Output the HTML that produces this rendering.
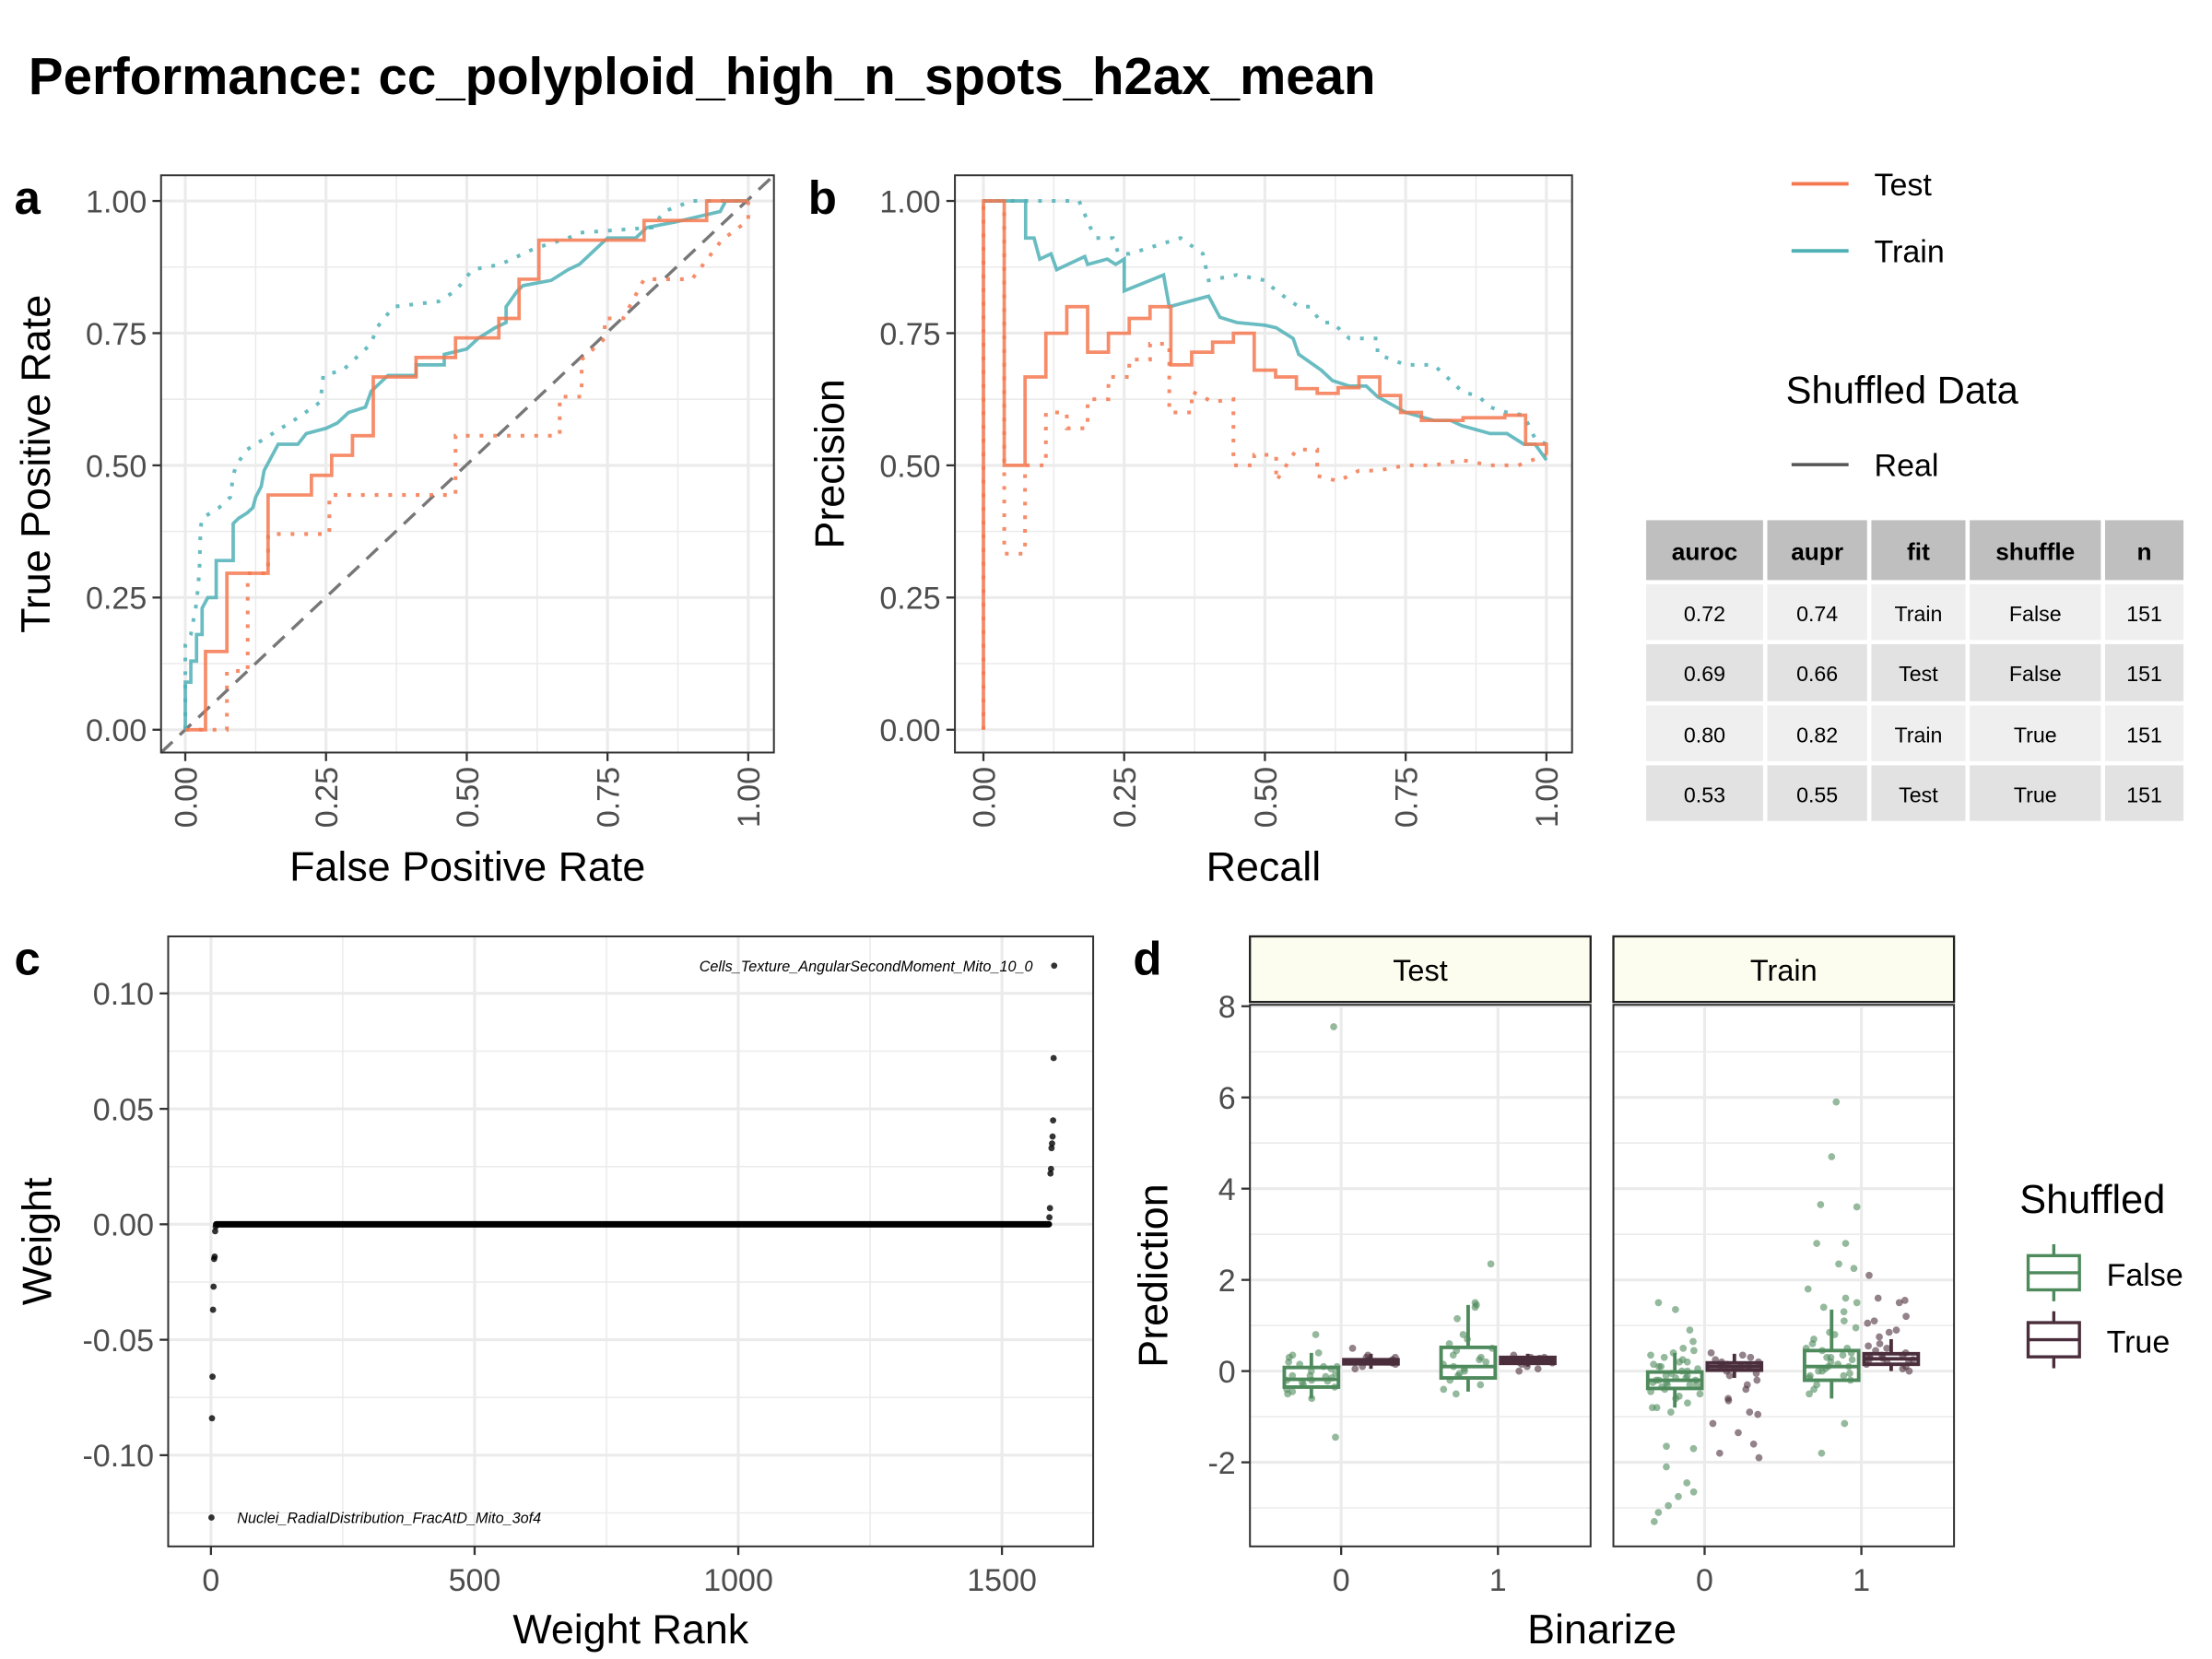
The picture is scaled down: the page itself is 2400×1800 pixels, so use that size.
<!DOCTYPE html>
<html><head><meta charset="utf-8">
<style>
html,body{margin:0;padding:0;background:#fff;}
svg{display:block;font-family:"Liberation Sans",Arial,sans-serif;}
</style></head>
<body>
<svg id="fig" width="2400" height="1800" viewBox="0 0 1552 1164" xmlns="http://www.w3.org/2000/svg">
<text x="20" y="66" font-size="36.5" font-weight="bold" fill="#000">Performance: cc_polyploid_high_n_spots_h2ax_mean</text>
</svg>
<script>
// ---------- DATA ----------
const rocTestReal = [[0,0],[0.036,0],[0.036,0.148],[0.074,0.148],[0.074,0.296],[0.147,0.296],[0.147,0.444],[0.224,0.444],[0.224,0.481],[0.26,0.481],[0.26,0.519],[0.297,0.519],[0.297,0.556],[0.334,0.556],[0.334,0.667],[0.41,0.667],[0.41,0.704],[0.48,0.704],[0.48,0.741],[0.557,0.741],[0.557,0.778],[0.593,0.778],[0.593,0.852],[0.628,0.852],[0.628,0.926],[0.815,0.926],[0.815,0.963],[0.926,0.963],[0.926,1],[1,1]];
const rocTestShuf = [[0,0],[0.06,0],[0.074,0],[0.074,0.111],[0.111,0.111],[0.111,0.296],[0.147,0.296],[0.147,0.37],[0.256,0.37],[0.256,0.444],[0.48,0.444],[0.48,0.556],[0.665,0.556],[0.665,0.63],[0.704,0.63],[0.704,0.7],[0.745,0.74],[0.745,0.778],[0.778,0.778],[0.815,0.852],[0.9,0.852],[0.953,0.926],[1,0.963],[1,1]];
const rocTrainReal = [[0,0],[0,0.09],[0.01,0.09],[0.01,0.13],[0.02,0.13],[0.02,0.18],[0.03,0.18],[0.03,0.23],[0.04,0.25],[0.055,0.25],[0.055,0.32],[0.085,0.32],[0.085,0.39],[0.095,0.40],[0.11,0.41],[0.12,0.42],[0.125,0.44],[0.135,0.46],[0.14,0.49],[0.155,0.52],[0.165,0.54],[0.2,0.54],[0.215,0.56],[0.25,0.57],[0.27,0.58],[0.29,0.6],[0.32,0.61],[0.33,0.64],[0.34,0.65],[0.36,0.67],[0.41,0.67],[0.41,0.69],[0.46,0.69],[0.46,0.71],[0.5,0.72],[0.52,0.74],[0.55,0.76],[0.57,0.77],[0.57,0.8],[0.59,0.83],[0.6,0.84],[0.65,0.85],[0.68,0.87],[0.7,0.88],[0.72,0.9],[0.73,0.91],[0.75,0.93],[0.8,0.93],[0.82,0.95],[0.87,0.96],[0.95,0.98],[0.96,1],[1,1]];
const rocTrainShuf = [[0,0],[0,0.16],[0.01,0.18],[0.02,0.24],[0.025,0.3],[0.027,0.38],[0.03,0.4],[0.06,0.42],[0.08,0.44],[0.085,0.48],[0.09,0.5],[0.11,0.53],[0.14,0.55],[0.17,0.57],[0.2,0.59],[0.24,0.62],[0.245,0.67],[0.28,0.68],[0.3,0.7],[0.33,0.73],[0.34,0.76],[0.37,0.8],[0.45,0.81],[0.48,0.83],[0.51,0.87],[0.56,0.88],[0.6,0.9],[0.62,0.91],[0.68,0.93],[0.7,0.94],[0.83,0.95],[0.85,0.98],[0.9,1],[1,1]];

const prTestReal = [[0,0],[0,1],[0.037,1],[0.037,0.5],[0.074,0.5],[0.074,0.667],[0.111,0.667],[0.111,0.75],[0.148,0.75],[0.148,0.8],[0.185,0.8],[0.185,0.714],[0.222,0.714],[0.222,0.75],[0.259,0.75],[0.259,0.778],[0.296,0.778],[0.296,0.8],[0.333,0.8],[0.333,0.69],[0.37,0.69],[0.37,0.714],[0.407,0.714],[0.407,0.733],[0.444,0.733],[0.444,0.75],[0.481,0.75],[0.481,0.68],[0.519,0.68],[0.519,0.667],[0.556,0.667],[0.556,0.645],[0.593,0.645],[0.593,0.636],[0.63,0.636],[0.63,0.647],[0.667,0.647],[0.667,0.667],[0.704,0.667],[0.704,0.632],[0.741,0.632],[0.741,0.6],[0.778,0.6],[0.778,0.585],[0.852,0.585],[0.852,0.59],[0.926,0.59],[0.926,0.595],[0.963,0.595],[0.963,0.54],[1,0.54],[1,0.52]];
const prTestShuf = [[0,0],[0,1],[0.037,1],[0.037,0.333],[0.074,0.333],[0.074,0.5],[0.111,0.5],[0.111,0.6],[0.148,0.6],[0.148,0.57],[0.185,0.57],[0.185,0.625],[0.222,0.625],[0.222,0.667],[0.259,0.667],[0.259,0.7],[0.296,0.7],[0.296,0.73],[0.33,0.73],[0.33,0.6],[0.37,0.6],[0.37,0.64],[0.407,0.62],[0.444,0.625],[0.444,0.5],[0.481,0.5],[0.481,0.52],[0.52,0.52],[0.52,0.47],[0.556,0.53],[0.593,0.53],[0.593,0.48],[0.63,0.47],[0.667,0.49],[0.7,0.49],[0.75,0.5],[0.8,0.5],[0.85,0.51],[0.9,0.5],[0.95,0.5],[1,0.52]];
const prTrainReal = [[0,1],[0.075,1],[0.075,0.93],[0.09,0.93],[0.1,0.89],[0.12,0.9],[0.13,0.87],[0.18,0.895],[0.185,0.88],[0.22,0.89],[0.235,0.88],[0.25,0.89],[0.25,0.83],[0.32,0.86],[0.33,0.8],[0.4,0.82],[0.42,0.78],[0.45,0.77],[0.5,0.765],[0.52,0.76],[0.55,0.74],[0.56,0.71],[0.6,0.68],[0.62,0.66],[0.65,0.65],[0.68,0.65],[0.7,0.63],[0.75,0.6],[0.8,0.585],[0.83,0.585],[0.85,0.575],[0.9,0.56],[0.93,0.56],[0.96,0.54],[0.98,0.54],[1,0.51]];
const prTrainShuf = [[0,1],[0.17,1],[0.19,0.95],[0.2,0.93],[0.23,0.93],[0.24,0.9],[0.26,0.9],[0.35,0.93],[0.39,0.9],[0.4,0.85],[0.45,0.86],[0.5,0.85],[0.52,0.83],[0.56,0.8],[0.58,0.8],[0.6,0.77],[0.62,0.77],[0.65,0.74],[0.7,0.74],[0.7,0.71],[0.75,0.69],[0.8,0.69],[0.82,0.67],[0.85,0.64],[0.88,0.63],[0.9,0.61],[0.93,0.6],[0.96,0.595],[0.98,0.55],[1,0.54]];

const unitTicks = [0,0.25,0.5,0.75,1];
const unitTickLabels = ["0.00","0.25","0.50","0.75","1.00"];

const weightNegRanks = [1,2,3,4,5,6,7,8,9];
const weightNegValues = [-0.127,-0.084,-0.066,-0.037,-0.027,-0.015,-0.014,-0.003,-0.001];
const weightPosRanks = [1590,1591,1592,1593,1594,1595,1596,1597,1598,1599];
const weightPosValues = [0.003,0.007,0.022,0.024,0.033,0.035,0.038,0.045,0.072,0.112];
const weightZeroRange = [10,1589];
const weightXTicks = [0,500,1000,1500];
const weightYTicks = [-0.1,-0.05,0,0.05,0.1];
const weightYTickLabels = ["-0.10","-0.05","0.00","0.05","0.10"];

const predTestFalse0 = [7.55,0.8,0.4,0.35,0.3,0.2,0.15,0.1,0.05,0,-0.05,-0.1,-0.12,-0.15,-0.2,-0.22,-0.25,-0.3,-0.35,-0.4,-0.45,-0.5,-0.6,-1.45,-0.2,-0.1,0.1];
const predTestTrue0 = [0.5,0.35,0.3,0.25,0.22,0.2,0.2,0.18,0.15,0.1,0.05,0.25,0.3];
const predTestFalse1 = [2.35,1.5,1.45,1.4,1.15,0.8,0.6,0.5,0.45,0.3,0.25,0.2,0.1,0.05,0,-0.05,-0.1,-0.2,-0.3,-0.4,-0.5,0.15,0.35,0.7];
const predTestTrue1 = [0.35,0.3,0.28,0.25,0.22,0.2,0.18,0.15,0.1,0.05,0.0,0.3,0.25];
const predTrainFalse0 = [1.5,1.35,0.9,0.65,0.5,0.45,0.4,0.35,0.3,0.25,0.2,0.15,0.1,0.05,0,-0.05,-0.1,-0.15,-0.2,-0.2,-0.25,-0.25,-0.3,-0.3,-0.35,-0.4,-0.45,-0.5,-0.55,-0.6,-0.7,-0.8,-0.8,-0.9,-1.65,-1.7,-2.1,-2.45,-2.65,-2.75,-2.95,-3.1,-3.3,0.0,-0.1,-0.2,-0.3,0.1,0.2,-0.15];
const predTrainTrue0 = [0.4,0.35,0.3,0.25,0.2,0.15,0.1,0.1,0.05,0,-0.05,-0.1,-0.2,-0.3,-0.4,-0.6,-0.65,-0.9,-0.95,-1.15,-1.35,-1.6,-1.8,-1.9,0.2,0.1,0.15];
const predTrainFalse1 = [5.9,4.7,3.6,3.65,2.8,2.8,2.35,2.25,1.8,1.6,1.5,1.4,1.3,1.1,0.95,0.85,0.8,0.7,0.6,0.5,0.45,0.4,0.35,0.3,0.2,0.15,0.1,0.05,0,-0.05,-0.1,-0.15,-0.2,-0.3,-0.4,-0.5,-1.15,-1.8,0.25,0.1,0.0,-0.1,0.5,0.3];
const predTrainTrue1 = [2.1,1.6,1.55,1.5,1.2,1.1,1.05,0.9,0.85,0.75,0.6,0.55,0.5,0.45,0.4,0.35,0.3,0.3,0.25,0.25,0.2,0.2,0.15,0.1,0.05,0.0,0.35,0.28];
// box stats: [lowWhisker, q1, median, q3, highWhisker]
const boxTestFalse0 = [-0.6,-0.35,-0.18,0.08,0.4];
const boxTestTrue0 = [0.05,0.16,0.2,0.25,0.38];
const boxTestFalse1 = [-0.45,-0.15,0.1,0.52,1.45];
const boxTestTrue1 = [0.1,0.17,0.23,0.3,0.38];
const boxTrainFalse0 = [-0.8,-0.38,-0.2,-0.02,0.4];
const boxTrainTrue0 = [-0.15,0.02,0.1,0.18,0.38];
const boxTrainFalse1 = [-0.6,-0.2,0.1,0.45,1.35];
const boxTrainTrue1 = [0.0,0.15,0.27,0.38,0.7];
const predYTicks = [-2,0,2,4,6,8];
const predCats = ["0","1"];

const tableHeaders = ["auroc","aupr","fit","shuffle","n"];
const tableRows = [["0.72","0.74","Train","False","151"],["0.69","0.66","Test","False","151"],["0.80","0.82","Train","True","151"],["0.53","0.55","Test","True","151"]];

// ---------- HELPERS ----------
const NS = "http://www.w3.org/2000/svg";
const svg = document.getElementById("fig");
const TICK_FS = 22, AXIS_FS = 29, LETTER_FS = 33;
function mk(tag, attrs, name, parent) {
  const el = document.createElementNS(NS, tag);
  for (const k in attrs) el.setAttribute(k, attrs[k]);
  
  
  (parent || svg).appendChild(el);
  return el;
}
function txt(x, y, s, size, name, opts) {
  opts = opts || {};
  const t = mk("text", {x: x, y: y, "font-size": size, fill: opts.fill || "#000", "text-anchor": opts.anchor || "start", "font-weight": opts.bold ? "bold" : "normal"}, name);
  if (opts.rot) t.setAttribute("transform", "rotate(" + opts.rot + " " + x + " " + y + ")");
  t.textContent = s;
  return t;
}
function scale(d0, d1, r0, r1) { return v => r0 + (v - d0) / (d1 - d0) * (r1 - r0); }
function jitter(i, w) { const s = Math.sin(i * 12.9898 + 3.7) * 43758.5453; return ((s - Math.floor(s)) - 0.5) * w; }
const TEST_C = "#F4784F", TRAIN_C = "#4FB0B6";

// ---------- PANEL a & b ----------
function unitPanel(bx0, bx1, px0, px1, letter, xtitle, ytitle, series, diag, key) {
  const by0 = 123, by1 = 528;
  const sx = scale(0, 1, px0, px1), sy = scale(0, 1, 512, 141);
  mk("rect", {x: bx0, y: by0, width: bx1 - bx0, height: by1 - by0, fill: "#fff"}, key + "-plot-background");
  for (let i = 0; i < 4; i++) {
    const m = (unitTicks[i] + unitTicks[i + 1]) / 2;
    mk("line", {x1: sx(m), x2: sx(m), y1: by0, y2: by1, stroke: "#EBEBEB", "stroke-width": 1}, key + "-minor-grid-x");
    mk("line", {x1: bx0, x2: bx1, y1: sy(m), y2: sy(m), stroke: "#EBEBEB", "stroke-width": 1}, key + "-minor-grid-y");
  }
  unitTicks.forEach((v, i) => {
    mk("line", {x1: sx(v), x2: sx(v), y1: by0, y2: by1, stroke: "#EBEBEB", "stroke-width": 2}, key + "-major-grid-x");
    mk("line", {x1: bx0, x2: bx1, y1: sy(v), y2: sy(v), stroke: "#EBEBEB", "stroke-width": 2}, key + "-major-grid-y");
    mk("line", {x1: bx0 - 6, x2: bx0, y1: sy(v), y2: sy(v), stroke: "#333", "stroke-width": 1.5}, key + "-y-tick");
    mk("line", {x1: sx(v), x2: sx(v), y1: by1, y2: by1 + 6, stroke: "#333", "stroke-width": 1.5}, key + "-x-tick");
    txt(bx0 - 10, sy(v) + 8, unitTickLabels[i], TICK_FS, key + "-y-tick-label", {anchor: "end", fill: "#4D4D4D"});
    txt(sx(v) + 8, by1 + 10, unitTickLabels[i], TICK_FS, key + "-x-tick-label", {anchor: "end", fill: "#4D4D4D", rot: -90});
  });
  if (diag) {
    mk("line", {x1: bx0, y1: by1, x2: bx1, y2: by0, stroke: "#777", "stroke-width": 2.2, "stroke-dasharray": "11 7"}, "diagonal-reference-line");
  }
  series.forEach(s => {
    const pts = s.data.map(p => sx(p[0]).toFixed(1) + "," + sy(p[1]).toFixed(1)).join(" ");
    const a = {points: pts, fill: "none", stroke: s.color, "stroke-width": s.dotted ? 2.6 : 2.4, "stroke-opacity": 0.85, "stroke-linejoin": "miter"};
    if (s.dotted) a["stroke-dasharray"] = "2.6 7";
    mk("polyline", a, s.name);
  });
  mk("rect", {x: bx0, y: by0, width: bx1 - bx0, height: by1 - by0, fill: "none", stroke: "#333", "stroke-width": 1.3}, key + "-panel-border");
  txt(bx0 - 103, 150, letter, LETTER_FS, key + "-panel-letter", {bold: true});
  txt((bx0 + bx1) / 2, 618, xtitle, AXIS_FS, key + "-x-axis-title", {anchor: "middle"});
  txt(bx0 - 78, (by0 + by1) / 2, ytitle, AXIS_FS, key + "-y-axis-title", {anchor: "middle", rot: -90});
}
unitPanel(113, 543, 130, 525, "a", "False Positive Rate", "True Positive Rate", [
  {data: rocTrainShuf, color: TRAIN_C, dotted: true, name: "roc-train-shuffled-line"},
  {data: rocTestShuf, color: TEST_C, dotted: true, name: "roc-test-shuffled-line"},
  {data: rocTrainReal, color: TRAIN_C, dotted: false, name: "roc-train-real-line"},
  {data: rocTestReal, color: TEST_C, dotted: false, name: "roc-test-real-line"}], true, "roc");
unitPanel(670, 1103, 690, 1085, "b", "Recall", "Precision", [
  {data: prTrainShuf, color: TRAIN_C, dotted: true, name: "pr-train-shuffled-line"},
  {data: prTestShuf, color: TEST_C, dotted: true, name: "pr-test-shuffled-line"},
  {data: prTrainReal, color: TRAIN_C, dotted: false, name: "pr-train-real-line"},
  {data: prTestReal, color: TEST_C, dotted: false, name: "pr-test-real-line"}], false, "pr");

// ---------- LEGEND (top right) ----------
mk("line", {x1: 1257, x2: 1297, y1: 129, y2: 129, stroke: TEST_C, "stroke-width": 2.5}, "legend-test-key");
txt(1315, 137, "Test", 22, "legend-test-label");
mk("line", {x1: 1257, x2: 1297, y1: 176, y2: 176, stroke: TRAIN_C, "stroke-width": 2.5}, "legend-train-key");
txt(1315, 184, "Train", 22, "legend-train-label");
txt(1253, 283, "Shuffled Data", 27, "legend-shuffled-title");
mk("line", {x1: 1257, x2: 1297, y1: 326, y2: 326, stroke: "#555", "stroke-width": 2.2}, "legend-real-key");
txt(1315, 334, "Real", 22, "legend-real-label");

// ---------- TABLE ----------
const colX = [1155, 1240, 1313, 1382, 1477, 1535];
const rowY = [365, 410, 452, 495, 537, 579];
tableHeaders.forEach((h, c) => {
  mk("rect", {x: colX[c], y: rowY[0], width: colX[c + 1] - colX[c] - 3, height: rowY[1] - rowY[0] - 3, fill: "#BFBFBF"}, "table-header-cell");
  txt((colX[c] + colX[c + 1] - 3) / 2, rowY[0] + 28, h, 17, "table-header-" + h, {anchor: "middle", bold: true});
});
tableRows.forEach((row, r) => {
  row.forEach((v, c) => {
    mk("rect", {x: colX[c], y: rowY[r + 1], width: colX[c + 1] - colX[c] - 3, height: rowY[r + 2] - rowY[r + 1] - 3, fill: r % 2 === 0 ? "#EFEFEF" : "#E2E2E2"}, "table-cell");
    txt((colX[c] + colX[c + 1] - 3) / 2, rowY[r + 1] + 26, v, 15, "table-value", {anchor: "middle"});
  });
});

// ---------- PANEL c ----------
(function () {
  const bx0 = 118, bx1 = 767, by0 = 657, by1 = 1085;
  const sx = scale(0, 1500, 148, 703), sy = scale(0, 0.1, 859, 697);
  mk("rect", {x: bx0, y: by0, width: bx1 - bx0, height: by1 - by0, fill: "#fff"}, "weight-plot-background");
  [250, 750, 1250].forEach(v => mk("line", {x1: sx(v), x2: sx(v), y1: by0, y2: by1, stroke: "#EBEBEB", "stroke-width": 1}, "weight-minor-grid-x"));
  [-0.125, -0.075, -0.025, 0.025, 0.075].forEach(v => mk("line", {x1: bx0, x2: bx1, y1: sy(v), y2: sy(v), stroke: "#EBEBEB", "stroke-width": 1}, "weight-minor-grid-y"));
  weightXTicks.forEach(v => {
    mk("line", {x1: sx(v), x2: sx(v), y1: by0, y2: by1, stroke: "#EBEBEB", "stroke-width": 2}, "weight-major-grid-x");
    mk("line", {x1: sx(v), x2: sx(v), y1: by1, y2: by1 + 6, stroke: "#333", "stroke-width": 1.5}, "weight-x-tick");
    txt(sx(v), by1 + 31, String(v), TICK_FS, "weight-x-tick-label", {anchor: "middle", fill: "#4D4D4D"});
  });
  weightYTicks.forEach((v, i) => {
    mk("line", {x1: bx0, x2: bx1, y1: sy(v), y2: sy(v), stroke: "#EBEBEB", "stroke-width": 2}, "weight-major-grid-y");
    mk("line", {x1: bx0 - 6, x2: bx0, y1: sy(v), y2: sy(v), stroke: "#333", "stroke-width": 1.5}, "weight-y-tick");
    txt(bx0 - 10, sy(v) + 8, weightYTickLabels[i], TICK_FS, "weight-y-tick-label", {anchor: "end", fill: "#4D4D4D"});
  });
  mk("line", {x1: sx(weightZeroRange[0]), x2: sx(weightZeroRange[1]), y1: sy(0), y2: sy(0), stroke: "#000", "stroke-width": 4.5, "stroke-linecap": "round"}, "weight-zero-points");
  weightNegRanks.forEach((r, i) => mk("circle", {cx: sx(r), cy: sy(weightNegValues[i]), r: 2.2, fill: "#000", "fill-opacity": 0.8}, "weight-point-negative"));
  weightPosRanks.forEach((r, i) => mk("circle", {cx: sx(r), cy: sy(weightPosValues[i]), r: 2.2, fill: "#000", "fill-opacity": 0.8}, "weight-point-positive"));
  const t1 = txt(sx(weightPosRanks[9]) - 15, sy(0.112) + 4, "Cells_Texture_AngularSecondMoment_Mito_10_0", 10.5, "top-feature-label", {anchor: "end"});
  t1.setAttribute("font-style", "italic");
  const t2 = txt(sx(weightNegRanks[0]) + 18, sy(-0.127) + 4, "Nuclei_RadialDistribution_FracAtD_Mito_3of4", 10.5, "bottom-feature-label");
  t2.setAttribute("font-style", "italic");
  mk("rect", {x: bx0, y: by0, width: bx1 - bx0, height: by1 - by0, fill: "none", stroke: "#333", "stroke-width": 1.3}, "weight-panel-border");
  txt(10, 684, "c", LETTER_FS, "weight-panel-letter", {bold: true});
  txt((bx0 + bx1) / 2, 1153, "Weight Rank", AXIS_FS, "weight-x-axis-title", {anchor: "middle"});
  txt(36, (by0 + by1) / 2, "Weight", AXIS_FS, "weight-y-axis-title", {anchor: "middle", rot: -90});
})();

// ---------- PANEL d ----------
(function () {
  const by0 = 705, by1 = 1085;
  const sy = scale(0, 2, 962, 898);
  const GREEN = "#4E8A5C", PURPLE = "#4B2E3C";
  const facets = [
    {name: "Test", x0: 877, x1: 1116, groups: [[predTestFalse0, boxTestFalse0, predTestTrue0, boxTestTrue0], [predTestFalse1, boxTestFalse1, predTestTrue1, boxTestTrue1]]},
    {name: "Train", x0: 1132, x1: 1371, groups: [[predTrainFalse0, boxTrainFalse0, predTrainTrue0, boxTrainTrue0], [predTrainFalse1, boxTrainFalse1, predTrainTrue1, boxTrainTrue1]]}
  ];
  let seed = 0;
  facets.forEach(f => {
    const sx = scale(0, 1, f.x0 + 64, f.x0 + 174);
    const key = f.name.toLowerCase();
    mk("rect", {x: f.x0, y: by0, width: f.x1 - f.x0, height: by1 - by0, fill: "#fff"}, key + "-facet-background");
    [-3, -1, 1, 3, 5, 7].forEach(v => mk("line", {x1: f.x0, x2: f.x1, y1: sy(v), y2: sy(v), stroke: "#EBEBEB", "stroke-width": 1}, key + "-minor-grid-y"));
    predYTicks.forEach(v => mk("line", {x1: f.x0, x2: f.x1, y1: sy(v), y2: sy(v), stroke: "#EBEBEB", "stroke-width": 2}, key + "-major-grid-y"));
    predCats.forEach((c, ci) => {
      mk("line", {x1: sx(ci), x2: sx(ci), y1: by0, y2: by1, stroke: "#EBEBEB", "stroke-width": 2}, key + "-major-grid-x");
      mk("line", {x1: sx(ci), x2: sx(ci), y1: by1, y2: by1 + 6, stroke: "#333", "stroke-width": 1.5}, key + "-x-tick");
      txt(sx(ci), by1 + 31, c, TICK_FS, key + "-x-tick-label", {anchor: "middle", fill: "#4D4D4D"});
    });
    f.groups.forEach((g, ci) => {
      [[g[0], g[1], -0.19, GREEN, "false"], [g[2], g[3], 0.19, PURPLE, "true"]].forEach(d => {
        const cx = sx(ci + d[2]), bw = 38;
        const b = d[1];
        mk("line", {x1: cx, x2: cx, y1: sy(b[0]), y2: sy(b[4]), stroke: d[3], "stroke-width": 2.5}, key + "-whisker-" + d[4]);
        mk("rect", {x: cx - bw / 2, y: sy(b[3]), width: bw, height: Math.max(1, sy(b[1]) - sy(b[3])), fill: "#fff", stroke: d[3], "stroke-width": 2.5}, key + "-box-" + d[4]);
        mk("line", {x1: cx - bw / 2, x2: cx + bw / 2, y1: sy(b[2]), y2: sy(b[2]), stroke: d[3], "stroke-width": 2.5}, key + "-median-" + d[4]);
        d[0].forEach((v, i) => {
          seed++;
          mk("circle", {cx: cx + jitter(seed, 36), cy: sy(v), r: 2.5, fill: d[3], "fill-opacity": 0.6}, key + "-point-" + d[4]);
        });
      });
    });
    mk("rect", {x: f.x0, y: by0, width: f.x1 - f.x0, height: by1 - by0, fill: "none", stroke: "#333", "stroke-width": 1.3}, key + "-facet-border");
    mk("rect", {x: f.x0, y: 657, width: f.x1 - f.x0, height: 46, fill: "#FCFDEE", stroke: "#222", "stroke-width": 1.5}, key + "-strip");
    txt((f.x0 + f.x1) / 2, 688, f.name, 21, key + "-strip-label", {anchor: "middle"});
  });
  predYTicks.forEach(v => {
    mk("line", {x1: 871, x2: 877, y1: sy(v), y2: sy(v), stroke: "#333", "stroke-width": 1.5}, "pred-y-tick");
    txt(867, sy(v) + 8, String(v), TICK_FS, "pred-y-tick-label", {anchor: "end", fill: "#4D4D4D"});
  });
  txt(795, 684, "d", LETTER_FS, "pred-panel-letter", {bold: true});
  txt(1124, 1153, "Binarize", AXIS_FS, "pred-x-axis-title", {anchor: "middle"});
  txt(819, 895, "Prediction", AXIS_FS, "pred-y-axis-title", {anchor: "middle", rot: -90});
  txt(1417, 851, "Shuffled", 28, "shuffled-legend-title");
  [[893, GREEN, "False"], [940, PURPLE, "True"]].forEach(l => {
    const nm = l[2].toLowerCase();
    mk("line", {x1: 1441, x2: 1441, y1: l[0] - 20, y2: l[0] + 20, stroke: l[1], "stroke-width": 2.2}, "shuffled-legend-" + nm + "-whisker");
    mk("rect", {x: 1423, y: l[0] - 12, width: 36, height: 24, fill: "#fff", stroke: l[1], "stroke-width": 2.2}, "shuffled-legend-" + nm + "-key");
    mk("line", {x1: 1423, x2: 1459, y1: l[0], y2: l[0], stroke: l[1], "stroke-width": 2.2}, "shuffled-legend-" + nm + "-median");
    txt(1478, l[0] + 9, l[2], 22, "shuffled-legend-" + nm + "-label");
  });
})();
</script>
</body></html>
